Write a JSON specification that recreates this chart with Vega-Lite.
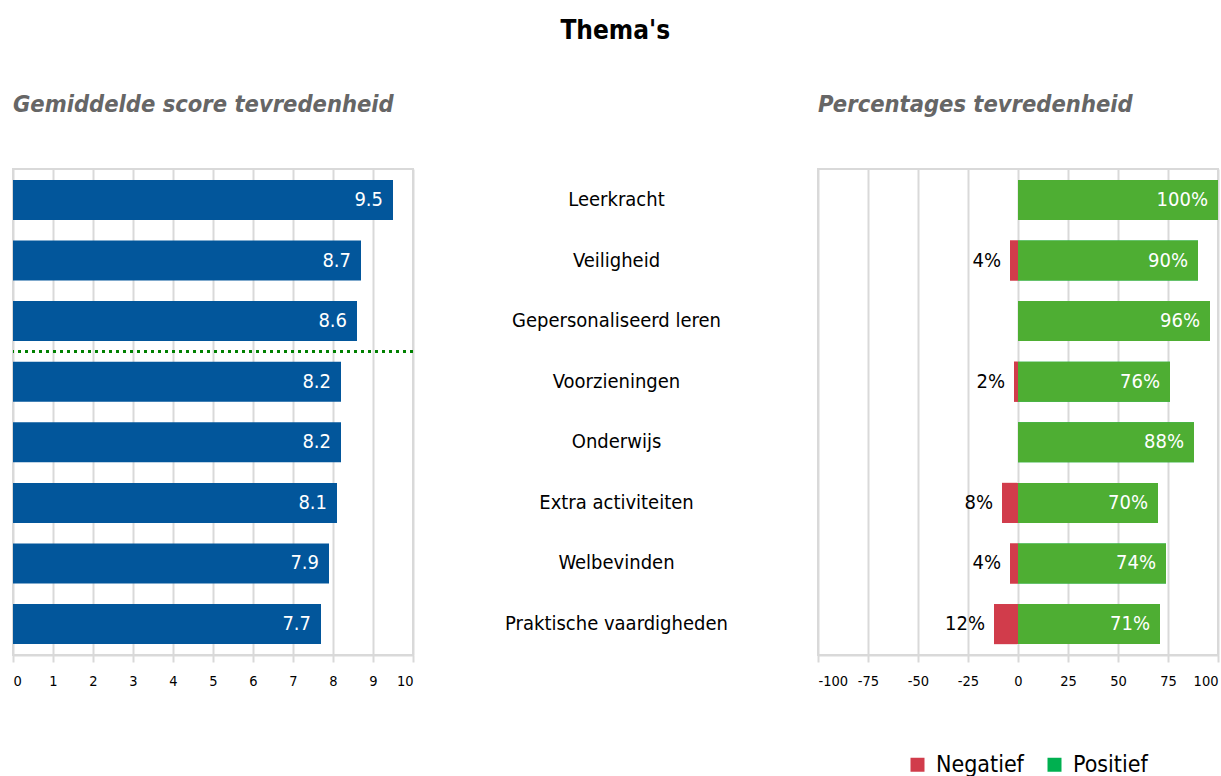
{
  "$schema": "https://vega.github.io/schema/vega-lite/v6.json",
  "padding": {"left": 10, "top": 17, "right": 0, "bottom": 0},
  "title": {"text": "Thema's", "fontSize": 26, "fontWeight": "bold", "color": "#000000", "anchor": "middle", "offset": 48},
  "datasets": {
    "themas": [
      {"thema": "Leerkracht", "score": 9.5, "Negatief": 0, "Positief": 100},
      {"thema": "Veiligheid", "score": 8.7, "Negatief": -4, "Positief": 90},
      {"thema": "Gepersonaliseerd leren", "score": 8.6, "Negatief": 0, "Positief": 96},
      {"thema": "Voorzieningen", "score": 8.2, "Negatief": -2, "Positief": 76},
      {"thema": "Onderwijs", "score": 8.2, "Negatief": 0, "Positief": 88},
      {"thema": "Extra activiteiten", "score": 8.1, "Negatief": -8, "Positief": 70},
      {"thema": "Welbevinden", "score": 7.9, "Negatief": -4, "Positief": 74},
      {"thema": "Praktische vaardigheden", "score": 7.7, "Negatief": -12, "Positief": 71}
    ]
  },
  "bounds": "flush",
  "spacing": 405,
  "hconcat": [
    {
      "width": 400,
      "height": 486,
      "title": {"text": "Gemiddelde score tevredenheid", "anchor": "start", "frame": "group", "fontSize": 23.5, "fontStyle": "italic", "fontWeight": "bold", "color": "#666666", "offset": 53},
      "data": {"name": "themas"},
      "encoding": {
        "y": {"field": "thema", "type": "nominal", "sort": null, "axis": null,
              "scale": {"paddingInner": 0.34, "paddingOuter": 0.18}},
        "x": {"field": "score", "type": "quantitative", "scale": {"domain": [0, 10], "nice": false},
              "axis": {"values": [0,1,2,3,4,5,6,7,8,9,10], "tickCount": 11, "labelOverlap": false, "labelBound": false, "title": null}}
      },
      "layer": [
        {
          "mark": {"type": "bar", "color": "#02569b"}
        },
        {
          "mark": {"type": "text", "align": "right", "baseline": "middle", "dx": -10, "color": "#ffffff", "fontSize": 20},
          "encoding": {
            "text": {"field": "score", "type": "quantitative", "format": ".1f"}
          }
        },
        {
          "transform": [{"filter": "datum.thema === 'Gepersonaliseerd leren'"}],
          "mark": {"type": "rule", "color": "#008000", "strokeWidth": 3, "strokeDash": [3, 4]},
          "encoding": {
            "x": null,
            "y": {"field": "thema", "type": "nominal", "sort": null, "bandPosition": 1.26}
          }
        }
      ]
    },
    {
      "width": 400,
      "height": 486,
      "title": {"text": "Percentages tevredenheid", "anchor": "start", "frame": "group", "fontSize": 23.5, "fontStyle": "italic", "fontWeight": "bold", "color": "#666666", "offset": 53},
      "data": {"name": "themas"},
      "resolve": {"scale": {"color": "independent"}},
      "encoding": {
        "y": {"field": "thema", "type": "nominal", "sort": null,
              "scale": {"paddingInner": 0.34, "paddingOuter": 0.18},
              "axis": {"title": null, "domain": false, "ticks": false, "tickSize": 0, "grid": false,
                       "labelAlign": "center", "labelPadding": 202, "labelFontSize": 20, "labelColor": "#000000", "labelLimit": 400}}
      },
      "layer": [
        {
          "transform": [{"fold": ["Negatief", "Positief"], "as": ["type", "value"]}],
          "mark": {"type": "bar"},
          "encoding": {
            "x": {"field": "value", "type": "quantitative", "stack": null,
                  "scale": {"domain": [-100, 100], "nice": false},
                  "axis": {"values": [-100,-75,-50,-25,0,25,50,75,100], "labelOverlap": false, "title": null}},
            "color": {"field": "type", "type": "nominal",
                      "scale": {"domain": ["Negatief", "Positief"], "range": ["#d13c4b", "#00b050"]},
                      "legend": {"orient": "none", "legendX": 88, "legendY": 584, "direction": "horizontal", "title": null,
                                 "symbolType": "square", "symbolSize": 196, "symbolStrokeWidth": 0, "symbolOpacity": 1, "labelFontSize": 23,
                                 "labelColor": "#000000", "labelOffset": 7, "columnPadding": 19, "padding": 0}}
          }
        },
        {
          "transform": [{"fold": ["Negatief", "Positief"], "as": ["type", "value"]}],
          "mark": {"type": "bar"},
          "encoding": {
            "x": {"field": "value", "type": "quantitative", "stack": null,
                  "axis": {"values": [-100,-75,-50,-25,0,25,50,75,100], "labelOverlap": false, "title": null}},
            "color": {"field": "type", "type": "nominal",
                      "scale": {"domain": ["Negatief", "Positief"], "range": ["#d13c4b", "#4eae33"]},
                      "legend": null}
          }
        },
        {
          "mark": {"type": "text", "align": "right", "baseline": "middle", "dx": -10, "color": "#ffffff", "fontSize": 20,
                   "text": {"expr": "datum.Positief + '%'"}},
          "encoding": {
            "x": {"field": "Positief", "type": "quantitative",
                  "axis": {"values": [-100,-75,-50,-25,0,25,50,75,100], "labelOverlap": false, "title": null}}
          }
        },
        {
          "transform": [{"filter": "datum.Negatief < 0"}],
          "mark": {"type": "text", "align": "right", "baseline": "middle", "dx": -9, "color": "#000000", "fontSize": 20,
                   "text": {"expr": "abs(datum.Negatief) + '%'"}},
          "encoding": {
            "x": {"field": "Negatief", "type": "quantitative",
                  "axis": {"values": [-100,-75,-50,-25,0,25,50,75,100], "labelOverlap": false, "title": null}}
          }
        }
      ]
    }
  ],
  "config": {
    "font": "DejaVu Sans Condensed, DejaVu Sans",
    "view": {"stroke": "#d9d9d9", "strokeWidth": 2},
    "axisX": {"grid": true, "gridColor": "#d9d9d9", "gridWidth": 2, "domainColor": "#d9d9d9", "domainWidth": 2,
              "tickColor": "#d9d9d9", "tickWidth": 2, "tickSize": 7, "labelFontSize": 14.5, "labelColor": "#000000",
              "labelPadding": 12, "labelFlush": true, "labelExpr": "'' + datum.value"}
  }
}
